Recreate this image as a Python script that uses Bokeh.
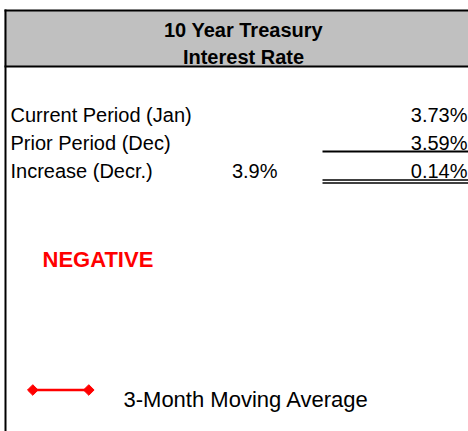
from bokeh.plotting import figure
from bokeh.models import Range1d, ColumnDataSource
from bokeh.core.properties import value
from bokeh.embed import file_html
from bokeh.resources import INLINE
import math

# ---- data ----
title_lines = ["10 Year Treasury", "Interest Rate"]
row_labels = ["Current Period (Jan)", "Prior Period (Dec)", "Increase (Decr.)"]
row_values = [3.73, 3.59, 0.14]
pct_change = [3.9]
status_text = ["NEGATIVE"]
legend_labels = ["3-Month Moving Average"]

W, H = 468, 431
FONT = value("Liberation Sans")

p = figure(width=W, height=H, x_range=Range1d(0, W), y_range=Range1d(H, 0),
           output_backend="svg", toolbar_location=None, min_border=0)
p.axis.visible = False
p.grid.visible = False
p.outline_line_color = None
p.background_fill_color = "white"
p.border_fill_color = "white"

# header band
p.quad(left=[4], right=[W], top=[10], bottom=[66], fill_color="#c0c0c0", line_color=None)
# borders
p.segment(x0=[4, 4], y0=[10, 66], x1=[W, W], y1=[10, 66], line_color="black", line_width=2)
p.segment(x0=[5], y0=[9], x1=[5], y1=[H], line_color="black", line_width=2)

# title
p.text(x=[243, 243], y=[29, 56.7], text=title_lines, text_font=FONT,
       text_font_size=value("20px"), text_font_style="bold", text_color="black",
       text_align="center", text_baseline="alphabetic")

# rows
row_y = [114.3, 142.3, 170.3]
p.text(x=[10] * 3, y=row_y, text=row_labels, text_font=FONT, text_font_size=value("20px"),
       text_color="black", text_align="left", text_baseline="alphabetic")
p.text(x=[467] * 3, y=row_y, text=[f"{v:.2f}%" for v in row_values], text_font=FONT,
       text_font_size=value("20px"), text_color="black", text_align="right",
       text_baseline="alphabetic")
p.text(x=[277], y=[row_y[2]], text=[f"{v:.1f}%" for v in pct_change], text_font=FONT,
       text_font_size=value("20px"), text_color="black", text_align="right",
       text_baseline="alphabetic")

# underlines
p.segment(x0=[322], y0=[151], x1=[W], y1=[151], line_color="black", line_width=2)
p.segment(x0=[322, 322], y0=[179.6, 182.6], x1=[W, W], y1=[179.6, 182.6],
          line_color="black", line_width=1.5)

# status
p.text(x=[42], y=[259], text=status_text, text_font=FONT, text_font_size=value("22px"),
       text_font_style="bold", text_color="#ff0000", text_align="left",
       text_baseline="alphabetic")

# legend
p.line(x=[32.3, 88.3], y=[389.5, 389.5], line_color="#ff0000", line_width=2.5)
p.scatter(x=[32.3, 88.3], y=[389.5, 389.5], marker="square", size=7.5, angle=math.pi / 4,
          fill_color="#ff0000", line_color="#ff0000")
p.text(x=[123], y=[399], text=legend_labels, text_font=FONT, text_font_size=value("22px"),
       text_color="black", text_align="left", text_baseline="alphabetic")

open("out.html", "w").write(file_html(p, INLINE))
